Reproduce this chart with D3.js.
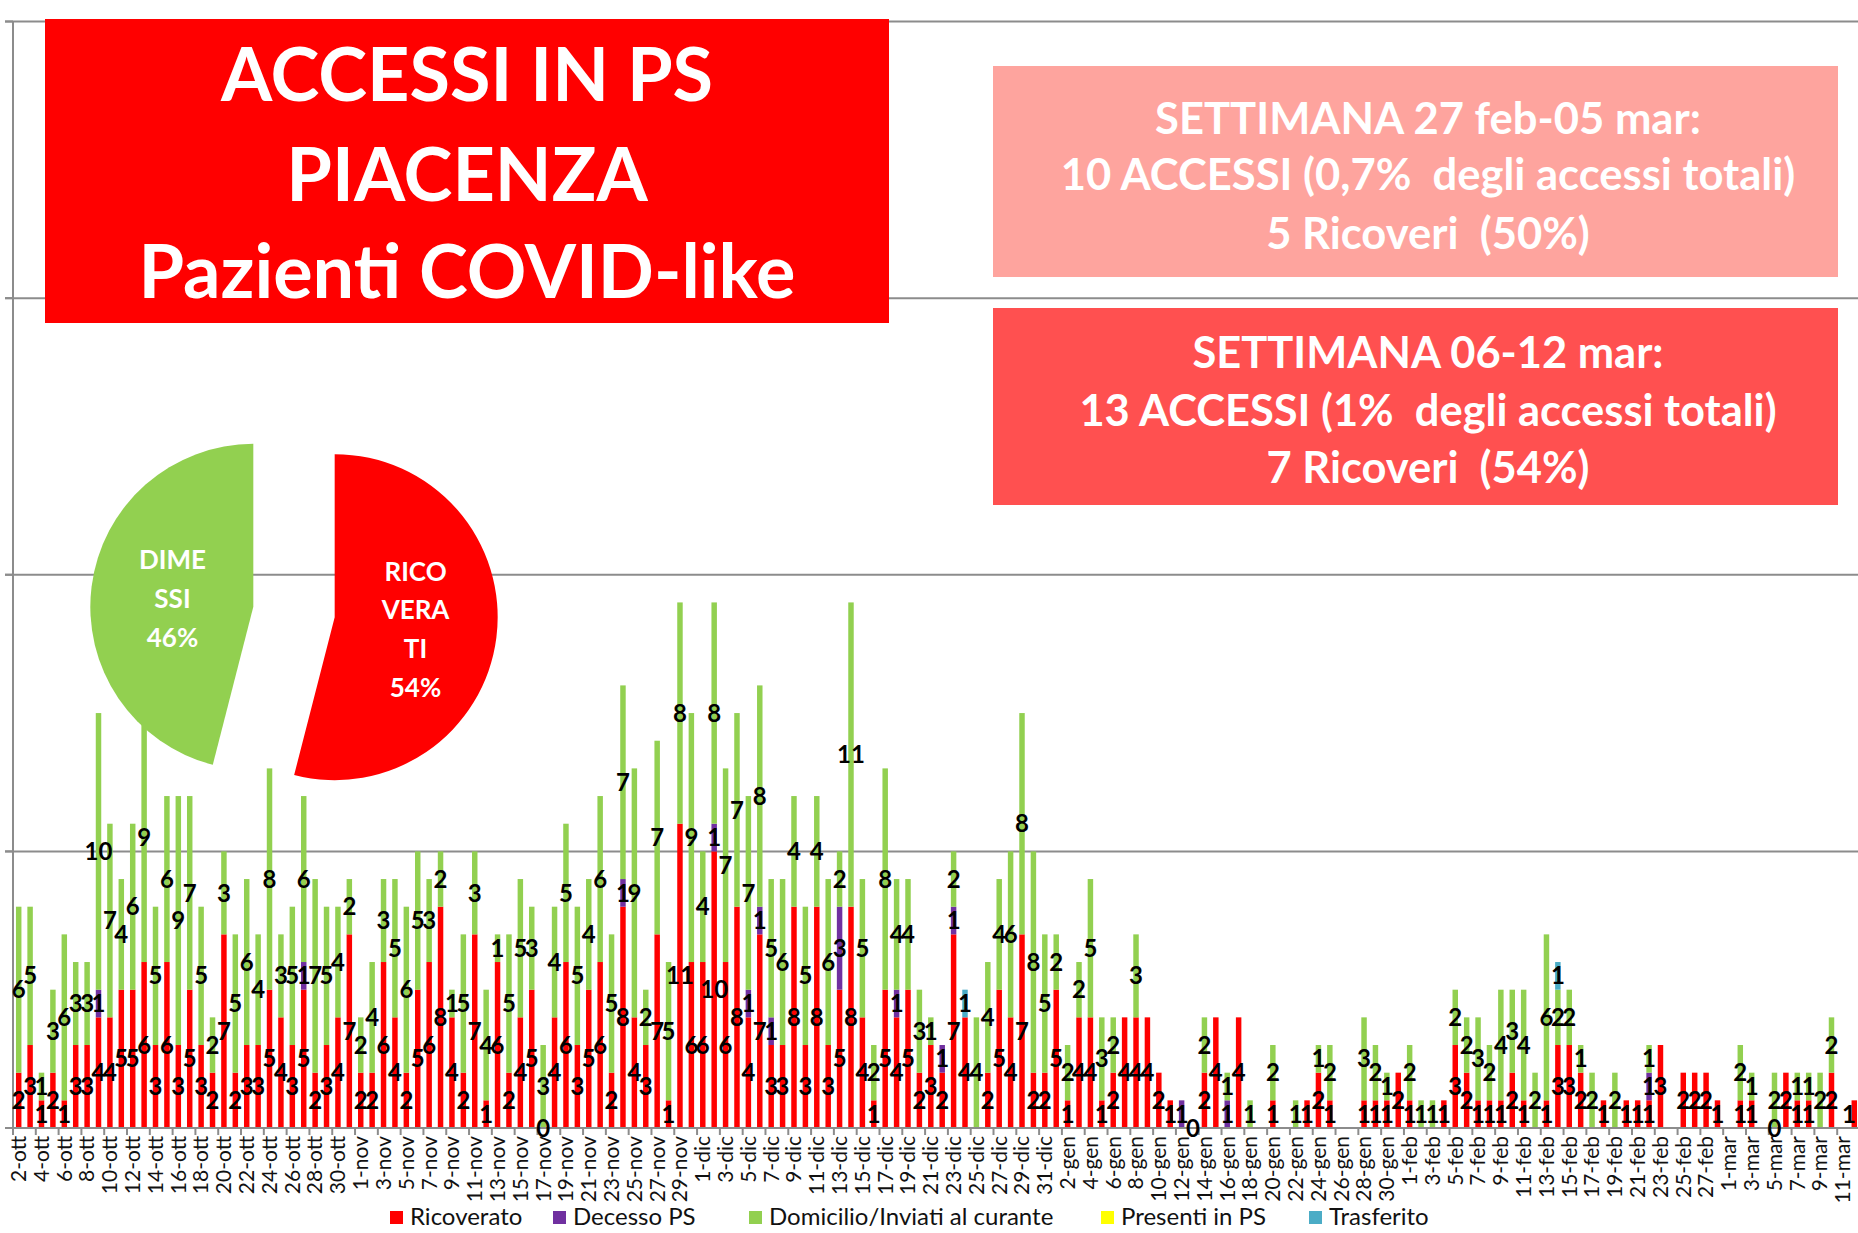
<!DOCTYPE html>
<html><head><meta charset="utf-8">
<script src="https://cdn.jsdelivr.net/npm/d3@7"></script>
<style>
body{margin:0;background:#fff;}
svg{display:block;font-family:Lato,"Open Sans",sans-serif;}
text{white-space:pre;}
</style></head><body>
<svg id="chart" width="1858" height="1233"></svg>
<script>
const n = null;
// months of the x axis: [label, first day, last day]
const months = [["ott",2,31],["nov",1,30],["dic",1,31],["gen",1,31],["feb",1,28],["mar",1,12]];
const categories = months.flatMap(([m,a,b]) => d3.range(a,b+1).map(d => d + "-" + m));
const tickLabels = categories.filter((d,i) => i % 2 === 0);

const seriesNames = ["Ricoverato","Decesso PS","Domicilio/Inviati al curante","Presenti in PS","Trasferito"];
const seriesColors = ["#FF0000","#7030A0","#92D050","#FFFF00","#4BACC6"];

const ricoverato = [
// ott
2,3,1,2,1,3,3,4,4,5, 5,6,3,6,3,5,3,2,7,2, 3,3,5,4,3,5,2,3,4,7,
// nov
2,2,6,4,2,5,6,8,4,2, 7,1,6,2,4,5,0,4,6,3, 5,6,2,8,4,3,7,1,11,6,
// dic
6,10,6,8,4,7,3,3,8,3, 8,3,5,8,4,1,5,4,5,2, 3,2,7,4,n,2,5,4,7,2, 2,
// gen
5,1,4,4,1,2,4,4,4,2, 1,n,0,2,4,n,4,n,n,1, n,n,1,2,1,n,n,1,1,1, 2,
// feb
1,n,n,1,3,2,1,1,1,2, 1,n,1,3,3,2,n,1,n,1, 1,1,3,n,2,2,2,1,
// mar
n,1,1,n,0,2,1,1,n,2, n,1];

const domicilio = [
// ott
6,5,1,3,6,3,3,10,7,4, 6,9,5,6,9,7,5,2,3,5, 6,4,8,3,5,6,7,5,4,2,
// nov
2,4,3,5,6,5,3,2,1,5, 3,4,1,5,5,3,3,4,5,5, 4,6,5,7,9,2,7,5,8,9,
// dic
4,8,7,7,7,8,5,6,4,5, 4,6,2,11,5,2,8,4,4,3, 1,n,2,n,4,4,4,6,8,8, 5,
// gen
2,2,2,5,3,2,n,3,n,n, n,n,n,2,n,1,n,1,n,2, n,1,n,1,2,n,n,3,2,1, n,
// feb
2,1,1,n,2,2,3,2,4,3, 4,2,6,2,2,1,2,n,2,n, n,1,n,n,n,n,n,n,
// mar
n,2,1,n,2,n,1,1,2,2, n,n];

const decessoPS = [["9-ott",1],["27-ott",1],["24-nov",1],["2-dic",1],["5-dic",1],["6-dic",1],["7-dic",1],
  ["13-dic",3],["18-dic",1],["22-dic",1],["23-dic",1],["12-gen",1],["16-gen",1],["22-feb",1]];
const presentiInPS = [];
const trasferito = [["24-dic",1],["14-feb",1]];

const pieValues = [54, 46];
const pieColors = ["#FF0000", "#92D050"];
const pieLabels = [["RICO","VERA","TI","54%"],["DIME","SSI","46%"]];

const titleLines = ["ACCESSI IN PS","PIACENZA","Pazienti COVID-like"];
const box1Lines = ["SETTIMANA 27 feb-05 mar:","10 ACCESSI (0,7%  degli accessi totali)","5 Ricoveri  (50%)"];
const box2Lines = ["SETTIMANA 06-12 mar:","13 ACCESSI (1%  degli accessi totali)","7 Ricoveri  (54%)"];

// ---------- build ----------
const keys = ["R","D","G","P","T"];
const dMap = new Map(decessoPS), pMap = new Map(presentiInPS), tMap = new Map(trasferito);
const table = categories.map((c,i) => ({
  cat: c, R: ricoverato[i], D: dMap.has(c) ? dMap.get(c) : null, G: domicilio[i],
  P: pMap.has(c) ? pMap.get(c) : null, T: tMap.has(c) ? tMap.get(c) : null
}));

const svg = d3.select("#chart");
svg.append("rect").attr("width",1858).attr("height",1233).attr("fill","#fff");

const x = d3.scaleBand().domain(categories).range([13, 1860]).paddingInner(0.52).paddingOuter(0.26);
const y = d3.scaleLinear().domain([0, 40]).range([1128, 21.5]);
const gridColor = "#8C8C8C";

// gridlines
svg.append("g").selectAll("line").data([10,20,30,40]).join("line")
  .attr("x1", 5).attr("x2", 1858).attr("y1", d => y(d)).attr("y2", d => y(d))
  .attr("stroke", gridColor).attr("stroke-width", 2);

// bars
const stack = d3.stack().keys(keys).value((d,k) => d[k] || 0)(table);
const bw = x.bandwidth();
const gBars = svg.append("g");
stack.forEach((layer, li) => {
  gBars.append("g").attr("fill", seriesColors[li]).selectAll("rect")
    .data(layer.filter(s => s[1] - s[0] > 0)).join("rect")
    .attr("x", s => x(s.data.cat)).attr("width", bw)
    .attr("y", s => y(s[1])).attr("height", s => y(s[0]) - y(s[1]));
});

// axes
const step = x.step();
const cellLeft = c => x(c) - (step - bw) / 2;
svg.append("line").attr("x1", 13).attr("x2", 1858).attr("y1", y(0)).attr("y2", y(0))
  .attr("stroke", gridColor).attr("stroke-width", 2);
svg.append("line").attr("x1", 13).attr("x2", 13).attr("y1", y(40)).attr("y2", y(0))
  .attr("stroke", gridColor).attr("stroke-width", 2);
svg.append("g").selectAll("line").data([0,10,20,30,40]).join("line")
  .attr("x1", 5).attr("x2", 13).attr("y1", d => y(d)).attr("y2", d => y(d))
  .attr("stroke", gridColor).attr("stroke-width", 2);
svg.append("g").selectAll("line").data(tickLabels).join("line")
  .attr("x1", d => cellLeft(d)).attr("x2", d => cellLeft(d))
  .attr("y1", y(0)).attr("y2", y(0) + 7).attr("stroke", gridColor).attr("stroke-width", 2);
svg.append("g").selectAll("text").data(tickLabels).join("text")
  .attr("transform", d => `translate(${x(d) + bw/2},${y(0) + 8}) rotate(-90)`)
  .attr("text-anchor", "end").attr("dy", "0.35em")
  .attr("font-size", 21).attr("fill", "#111").text(d => d);

// data labels (kept inside the plot at the right edge)
const gLab = svg.append("g").attr("font-size", 24).attr("font-weight", 700)
  .attr("fill", "#000").attr("text-anchor", "middle");
stack.forEach((layer, li) => {
  const k = keys[li];
  gLab.append("g").selectAll("text").data(layer.filter(s => s.data[k] !== null)).join("text")
    .attr("x", s => Math.min(x(s.data.cat) + bw/2, 1849)).attr("y", s => y((s[0] + s[1]) / 2))
    .attr("dy", "0.36em").text(s => s.data[k]);
});

// legend
const legX = [390, 553, 749, 1101, 1309];
const legY = 1217;
const gLeg = svg.append("g");
seriesNames.forEach((name, i) => {
  gLeg.append("rect").attr("x", legX[i]).attr("y", legY - 6).attr("width", 13).attr("height", 13)
    .attr("fill", seriesColors[i]);
  gLeg.append("text").attr("x", legX[i] + 20).attr("y", legY).attr("dy", "0.35em")
    .attr("font-size", 24).attr("fill", "#111").text(name);
});

// text boxes
function textBlock(lines, cx, baselines, targets, color, weight) {
  const g = svg.append("g");
  const ts = lines.map(l => g.append("text").attr("font-size", 100).attr("font-weight", weight).text(l));
  const sizes = ts.map((t,i) => targets[i] / t.node().getComputedTextLength() * 100);
  const fs = d3.mean(sizes);
  ts.forEach((t,i) => t.attr("font-size", fs).attr("x", cx).attr("y", baselines[i])
    .attr("text-anchor", "middle").attr("fill", color));
}
svg.append("rect").attr("x", 45).attr("y", 19).attr("width", 844).attr("height", 304).attr("fill", "#FF0000");
textBlock(titleLines, 467, [101, 201, 298], [488, 352, 680], "#fff", 700);

svg.append("rect").attr("x", 993).attr("y", 66).attr("width", 845).attr("height", 211).attr("fill", "#FEA49E");
textBlock(box1Lines, 1428, [134, 190, 249], [540, 738, 326], "#fff", 700);

svg.append("rect").attr("x", 993).attr("y", 308).attr("width", 845).attr("height", 197).attr("fill", "#FF5050");
textBlock(box2Lines, 1428, [368, 426, 483], [464, 701, 326], "#fff", 700);

// exploded pie
const pc = [294, 612], pr = 163, explode = 41;
const arcs = d3.pie().sort(null)(pieValues);
const arc = d3.arc().innerRadius(0).outerRadius(pr);
const gPie = svg.append("g").attr("transform", `translate(${pc[0]},${pc[1]})`);
arcs.forEach((a, i) => {
  const mid = (a.startAngle + a.endAngle) / 2;
  const g = gPie.append("g").attr("transform", `translate(${explode*Math.sin(mid)},${-explode*Math.cos(mid)})`);
  g.append("path").attr("d", arc(a)).attr("fill", pieColors[i]);
  const [lx, ly] = arc.centroid(a);
  const lines = pieLabels[i];
  lines.forEach((l, j) => {
    g.append("text").attr("x", lx).attr("y", ly + 2 + (j - (lines.length - 1) / 2) * 38.7)
      .attr("dy", "0.36em").attr("text-anchor", "middle").attr("font-size", 26)
      .attr("font-weight", 700).attr("fill", "#fff").text(l);
  });
});
</script>
</body></html>
